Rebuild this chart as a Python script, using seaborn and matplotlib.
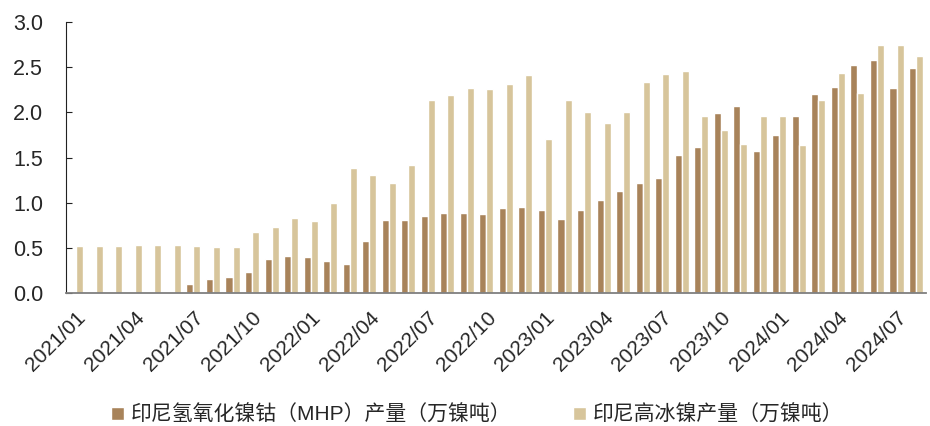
import pandas as pd
import matplotlib
matplotlib.use("Agg")
import matplotlib.pyplot as plt
import seaborn as sns

months = [f"{y}/{m:02d}" for y in range(2021, 2025) for m in range(1, 13)][:44]

mhp = [0, 0, 0, 0, 0, 0, 0.10, 0.155, 0.18, 0.235, 0.38, 0.41,
       0.40, 0.35, 0.32, 0.575, 0.81, 0.81, 0.855, 0.885, 0.885, 0.875, 0.94, 0.95,
       0.915, 0.825, 0.925, 1.03, 1.13, 1.22, 1.27, 1.53, 1.62, 1.99, 2.07, 1.57,
       1.75, 1.96, 2.20, 2.28, 2.53, 2.58, 2.27, 2.49]
matte = [0.52, 0.52, 0.525, 0.53, 0.53, 0.53, 0.52, 0.505, 0.51, 0.68, 0.73, 0.83,
         0.80, 1.00, 1.39, 1.305, 1.22, 1.42, 2.14, 2.19, 2.27, 2.26, 2.31, 2.41,
         1.71, 2.14, 2.01, 1.88, 2.00, 2.34, 2.43, 2.46, 1.96, 1.81, 1.655, 1.96,
         1.96, 1.64, 2.14, 2.44, 2.22, 2.75, 2.75, 2.63]

name_mhp = "印尼氢氧化镍钴（MHP）产量（万镍吨）"
name_matte = "印尼高冰镍产量（万镍吨）"

df = pd.concat([
    pd.DataFrame({"month": months, "value": mhp, "series": name_mhp}),
    pd.DataFrame({"month": months, "value": matte, "series": name_matte}),
])

sns.set_style("white")
plt.rcParams["font.family"] = ["Liberation Sans", "Noto Sans CJK SC", "DejaVu Sans"]

fig = plt.figure(figsize=(9.3, 4.26), dpi=100)
ax = fig.add_axes([0.0715, 0.312, 0.924, 0.636])

palette = {name_mhp: "#A8835A", name_matte: "#D7C59B"}
sns.barplot(data=df, x="month", y="value", hue="series", order=months,
            hue_order=[name_mhp, name_matte], palette=palette, width=0.72,
            saturation=1, ax=ax, legend=True)

ax.set_xlim(-0.5, len(months) - 0.5)
ax.set_ylim(0, 3.0)
yt = [0, 0.5, 1.0, 1.5, 2.0, 2.5, 3.0]
ax.set_yticks(yt)
ax.set_yticklabels([f"{v:.1f}" for v in yt], fontsize=15.5)
ax.set_xlabel("")
ax.set_ylabel("")

label_pos = list(range(0, len(months), 3))
ax.set_xticks(label_pos)
ax.set_xticklabels([months[i] for i in label_pos], rotation=45, ha="right",
                   rotation_mode="anchor", fontsize=15)
ax.tick_params(axis="x", which="major", length=0, pad=11)
ax.set_xticks([i + 2.5 for i in range(0, len(months) - 3, 3)], minor=True)
ax.tick_params(axis="x", which="minor", length=4.5, color="#222222", direction="in")
ax.tick_params(axis="y", length=4.5, color="#222222", direction="in", left=True, pad=17)

for s in ["top", "right"]:
    ax.spines[s].set_visible(False)
ax.spines["left"].set_color("#222222")
ax.spines["bottom"].set_color("#7f7f7f")
ax.spines["bottom"].set_linewidth(1.3)

handles, labels = ax.get_legend_handles_labels()
ax.get_legend().remove()
fig.legend(handles, labels, loc="center", bbox_to_anchor=(0.513, 0.026), ncol=2,
           frameon=False, handlelength=0.62, handleheight=0.62, handletextpad=0.3,
           columnspacing=3.0,
           prop={"family": ["Liberation Sans", "Noto Sans CJK SC"], "size": 15})

fig.savefig("out.png", dpi=100)
